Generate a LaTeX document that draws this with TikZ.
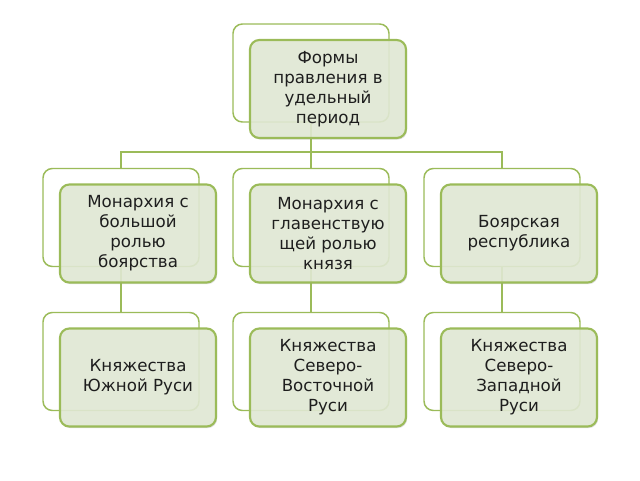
\documentclass[tikz,border=0pt]{standalone}
\usepackage{fontspec}
\setmainfont{DejaVu Sans}
\usepackage{tikz}
\usetikzlibrary{shadows}
\definecolor{olivegreen}{HTML}{9BBB59}
\definecolor{olivefill}{HTML}{E3EBD6}
\definecolor{textgray}{HTML}{1E1E1E}

\begin{document}
\begin{tikzpicture}[x=0.75pt, y=-0.75pt,
        backbox/.style={draw=olivegreen, line width=1.1pt, fill=white, rounded corners=7pt,
            minimum width=117pt, minimum height=73.5pt},
        frontbox/.style={draw=olivegreen, line width=1.6pt, fill=olivefill, fill opacity=0.88,
            text opacity=1, rounded corners=7pt, minimum width=117pt, minimum height=73.5pt,
            align=center, text=textgray, font=\fontsize{12.5}{15}\selectfont,
            drop shadow={opacity=0.25, shadow xshift=0.8pt, shadow yshift=-1.2pt}},
        conn/.style={draw=olivegreen, line width=1.1pt}]
        % fix the size of the picture
        \useasboundingbox (0,0) rectangle (640,480);
        % draw back boxes of all levels
        \node[backbox] (formsB) at (311,73) {};
        \node[backbox] (boyarMonB) at (121,217.5) {};
        \node[backbox] (princeMonB) at (311,217.5) {};
        \node[backbox] (republicB) at (502,217.5) {};
        \node[backbox] (southB) at (121,361.5) {};
        \node[backbox] (northEastB) at (311,361.5) {};
        \node[backbox] (northWestB) at (502,361.5) {};
        % draw connectors between levels
        \coordinate (bus) at (311,152);
        \draw[conn] (formsB.south) -- (bus);
        \draw[conn] (boyarMonB.north) |- (bus) -| (republicB.north);
        \draw[conn] (bus) -- (princeMonB.north);
        \draw[conn] (boyarMonB.south) -- (southB.north);
        \draw[conn] (princeMonB.south) -- (northEastB.north);
        \draw[conn] (republicB.south) -- (northWestB.north);
        % draw front boxes with texts
        \node[frontbox] (forms) at (328,89) {Формы\\правления в\\удельный\\период};
        \node[frontbox] (boyarMon) at (138,233.5) {Монархия с\\большой\\ролью\\боярства};
        \node[frontbox] (princeMon) at (328,233.5) {Монархия с\\главенствую\\щей ролью\\князя};
        \node[frontbox] (republic) at (519,233.5) {Боярская\\республика};
        \node[frontbox] (south) at (138,377.5) {Княжества\\Южной Руси};
        \node[frontbox] (northEast) at (328,377.5) {Княжества\\Северо-\\Восточной\\Руси};
        \node[frontbox] (northWest) at (519,377.5) {Княжества\\Северо-\\Западной\\Руси};
    \end{tikzpicture}
\end{document}
